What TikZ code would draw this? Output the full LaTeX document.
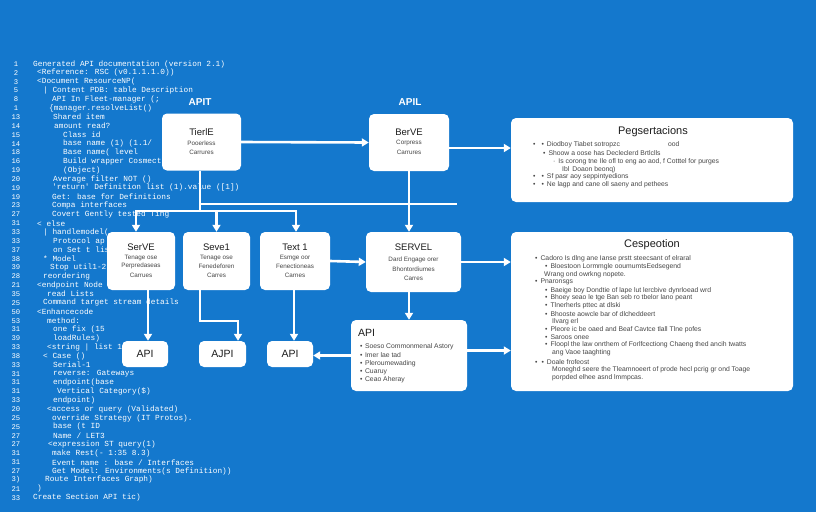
\documentclass[tikz,border=0pt]{standalone}
\usepackage{fontspec}
\setmainfont{Liberation Sans}
\newfontfamily\codefont{Liberation Mono}
\usetikzlibrary{arrows.meta,calc}
\definecolor{bg}{RGB}{20,120,205}
\definecolor{ink}{RGB}{28,28,28}
\definecolor{gtxt}{RGB}{70,70,70}
\newcommand\codeln[4]{%
  \node[codetxt] (c#1) at (#2,{64+8.85*(#1-1)}) {#4};
  \node[codenum] (n#1) at (16,{64+8.85*(#1-1)}) {#3};}
\begin{document}
\begin{tikzpicture}[x=1pt,y=-1pt,
  codetxt/.style={anchor=west,inner sep=0pt,text=white,font=\codefont\fontsize{7.8}{9}\selectfont},
  codenum/.style={inner sep=0pt,text=white,font=\codefont\fontsize{7.2}{9}\selectfont},
  box/.style={fill=white,rounded corners=5pt,draw=none,inner sep=0pt},
  ttl/.style={inner sep=0pt,text=ink,font=\fontsize{9.5}{11}\selectfont},
  apittl/.style={inner sep=0pt,text=ink,font=\fontsize{10.5}{12}\selectfont},
  sublab/.style={inner sep=0pt,text=gtxt,font=\fontsize{6.3}{7}\selectfont},
  bigttl/.style={inner sep=0pt,text=ink,font=\fontsize{11}{13}\selectfont},
  ln/.style={anchor=west,inner sep=0pt,text=gtxt,font=\fontsize{6.8}{8}\selectfont},
  toplab/.style={inner sep=0pt,text=white,font=\bfseries\fontsize{10}{12}\selectfont},
  conn/.style={draw=white,line width=2.6pt},
  arr/.style={conn,-{Triangle[length=7pt,width=8pt]}}
]
\fill[bg] (0,0) rectangle (816,512);
\useasboundingbox (0,0) rectangle (816,512);

% ---------------- code listing ----------------
\codeln{1}{33}{1}{Generated API documentation (version 2.1)}
\codeln{2}{37}{2}{<Reference:  RSC  (v0.1.1.1.0))}
\codeln{3}{37}{3}{<Document ResourceNP(}
\codeln{4}{43}{5}{| Content PDB: table  Description}
\codeln{5}{52}{8}{API In Fleet-manager (;}
\codeln{6}{49}{1}{\{manager.resolveList()}
\codeln{7}{53}{13}{Shared item}
\codeln{8}{54}{14}{amount read?}
\codeln{9}{63}{15}{Class id}
\codeln{10}{63}{14}{base  name  (1)    (1.1/}
\codeln{11}{63}{18}{Base name( level}
\codeln{12}{63}{16}{Build wrapper Cosmect}
\codeln{13}{63}{19}{(Object)}
\codeln{14}{53}{20}{Average filter  NOT ()}
\codeln{15}{52}{19}{'return' Definition list (1).value ([1])}
\codeln{16}{52}{19}{Get: base  for  Definitions}
\codeln{17}{52}{23}{Compa  interfaces}
\codeln{18}{52}{27}{Covert Gently tested Ting}
\codeln{19}{37}{31}{< else}
\codeln{20}{43}{33}{| handlemodel(}
\codeln{21}{53}{33}{Protocol  ap}
\codeln{22}{53}{37}{on  Set  t  list}
\codeln{23}{43}{38}{* Model}
\codeln{24}{50}{39}{Stop util1-2.}
\codeln{25}{43}{28}{reordering}
\codeln{26}{37}{21}{<endpoint Node}
\codeln{27}{47}{35}{read  Lists}
\codeln{28}{43}{25}{Command target stream details}
\codeln{29}{37}{50}{<Enhancecode}
\codeln{30}{47}{53}{method:}
\codeln{31}{53}{31}{one fix (15}
\codeln{32}{53}{39}{loadRules)}
\codeln{33}{47}{33}{<string | list 1.1}
\codeln{34}{43}{38}{< Case  ()}
\codeln{35}{53}{33}{Serial-1}
\codeln{36}{53}{31}{reverse:  Gateways}
\codeln{37}{53}{31}{endpoint(base}
\codeln{38}{57}{31}{Vertical  Category(\$)}
\codeln{39}{53}{33}{endpoint)}
\codeln{40}{47}{20}{<access or query (Validated)}
\codeln{41}{52}{25}{override Strategy (IT Protos).}
\codeln{42}{53}{25}{base    (t  ID}
\codeln{43}{53}{27}{Name / LET3}
\codeln{44}{48}{27}{<expression ST query(1)}
\codeln{45}{52}{31}{make Rest(- 1:35  8.3)}
\codeln{46}{52}{31}{Event name : base / Interfaces}
\codeln{47}{52}{27}{Get  Model:  Environments(s  Definition))}
\codeln{48}{45}{3)}{Route  Interfaces  Graph)}
\codeln{49}{37}{21}{)}
\codeln{50}{33}{33}{Create Section API tic)}

% ---------------- boxes ----------------
\node[box,minimum width=79pt,minimum height=57pt] (tierle) at (201.5,142) {};
\node[box,minimum width=80pt,minimum height=57pt] (servetop) at (409,142.5) {};
\node[box,minimum width=282pt,minimum height=84pt] (pegs) at (652,160) {};
\node[box,minimum width=282pt,minimum height=159pt] (cesp) at (652,311.5) {};
\node[box,minimum width=68pt,minimum height=58pt] (serve) at (141,261) {};
\node[box,minimum width=67pt,minimum height=58pt] (serv1) at (216.5,261) {};
\node[box,minimum width=70pt,minimum height=58pt] (text1) at (295,261) {};
\node[box,minimum width=95pt,minimum height=60pt] (servel) at (413.5,262) {};
\node[box,minimum width=46pt,minimum height=26pt] (api1) at (145,354) {};
\node[box,minimum width=47pt,minimum height=26pt] (ajpi) at (222.5,354) {};
\node[box,minimum width=46pt,minimum height=26pt] (api3) at (290,354) {};
\node[box,minimum width=116pt,minimum height=71pt] (apibig) at (409,355.5) {};

% top labels
\node[toplab] (lapit) at (200,102) {APIT};
\node[toplab] (lapil) at (410,102) {APIL};

% box texts
\node[ttl] (tierleT) at (201.5,132) {TierlE};
\node[sublab] (tierleA) at (201.5,143) {Pooerless};
\node[sublab] (tierleB) at (201.5,152) {Carrures};

\node[ttl] (servetopT) at (409,132) {BerVE};
\node[sublab] (servetopA) at (409,143) {Corpress};
\node[sublab] (servetopB) at (409,152) {Carrures};

\node[ttl] (serveT) at (141,247) {SerVE};
\node[sublab] (serveA) at (141,257.5) {Tenage ose};
\node[sublab] (serveB) at (141,266) {Perpredaseas};
\node[sublab] (serveC) at (141,275) {Carrues};

\node[ttl] (serv1T) at (216.5,247) {Seve1};
\node[sublab] (serv1A) at (216.5,257.5) {Tenage ose};
\node[sublab] (serv1B) at (216.5,266) {Fenedeforen};
\node[sublab] (serv1C) at (216.5,275) {Carres};

\node[ttl] (text1T) at (295,247) {Text 1};
\node[sublab] (text1A) at (295,257.5) {Esmge oor};
\node[sublab] (text1B) at (295,266) {Fenectioneas};
\node[sublab] (text1C) at (295,275) {Carnes};

\node[ttl] (servelT) at (413.5,247) {SERVEL};
\node[sublab] (servelA) at (413.5,260) {Dard Engage orer};
\node[sublab] (servelB) at (413.5,269) {Bhontordiumes};
\node[sublab] (servelC) at (413.5,278) {Carres};

\node[apittl] (api1T) at (145,354) {API};
\node[apittl] (ajpiT) at (222.5,354) {AJPI};
\node[apittl] (api3T) at (290,354) {API};

\node[apittl,anchor=west] (apibigT) at (358,333) {API};
\node[ln] (ab1) at (360,347) {•\hspace{2.5pt}Soeso Commonmenal Astory};
\node[ln] (ab2) at (360,355) {•\hspace{2.5pt}Imer lae tad};
\node[ln] (ab3) at (360,364) {•\hspace{2.5pt}Pleroumewading};
\node[ln] (ab4) at (360,372) {•\hspace{2.5pt}Cuaruy};
\node[ln] (ab5) at (360,380) {•\hspace{2.5pt}Ceao Aheray};

\node[bigttl] (pegsT) at (653,132) {Pegsertacions};
\node[ln] (p1) at (533,145) {•\hspace{6pt}•\hspace{3pt}Diodboy Tiabet sotropzc\hspace{48pt}ood};
\node[ln] (p2) at (543,153) {•\hspace{3pt}Shoow a oose has Decleclerd Brtlclls};
\node[ln] (p3) at (553,162) {·\hspace{3pt}Is corong tne Ile ofl to eng ao aod, f Cotttel for purges};
\node[ln] (p4) at (562,170) {Ibl\hspace{3pt}Doaon beonq)};
\node[ln] (p5) at (533,177) {•\hspace{6pt}•\hspace{3pt}Sf pasr aoy seppintyedions};
\node[ln] (p6) at (533,185) {•\hspace{6pt}•\hspace{3pt}Ne lagp and cane oll saeny and pethees};

\node[bigttl] (cespT) at (652,245) {Cespeotion};
\node[ln] (q1) at (535,259) {•\hspace{3pt}Cadoro Is dlng ane Ianse prstt steecsant of elraral};
\node[ln] (q2) at (545,267) {•\hspace{3pt}Bloestoon Lormmgle ooumumtsEedsegend};
\node[ln] (q3) at (544,275) {Wrang ond owrkng nopete.};
\node[ln] (q4) at (535,282) {•\hspace{3pt}Pnaronsgs};
\node[ln] (q5) at (545,291) {•\hspace{3pt}Baeige boy Dondtie of lape lut lercbive dynrloead wrd};
\node[ln] (q6) at (545,298) {•\hspace{3pt}Bhoey seao le tge Ban seb ro tbelor lano peant};
\node[ln] (q7) at (545,306) {•\hspace{3pt}Tlnerherls pttec at dlski};
\node[ln] (q8) at (545,314) {•\hspace{3pt}Bhooste aowcle bar of dlcheddeert};
\node[ln] (q9) at (552,322) {Ilvarg erl};
\node[ln] (q10) at (545,330) {•\hspace{3pt}Pleore ic be oaed and Beaf Cavtce tlall Tlne pofes};
\node[ln] (q11) at (545,337) {•\hspace{3pt}Saroos onee};
\node[ln] (q12) at (545,345) {•\hspace{3pt}Floopl the law onrthem of Forlfcectiong Chaeng thed ancih twatts};
\node[ln] (q13) at (552,353) {ang Vaoe taaghting};
\node[ln] (q14) at (535,362) {•\hspace{4pt}•\hspace{3pt}Doale frofeost};
\node[ln] (q15) at (552,370) {Moneghd seere the Tleamnoeert of prode hecl pcrig gr ond Toage};
\node[ln] (q16) at (552,378) {porpded elhee asnd lmmpcas.};

% ---------------- connectors ----------------
\coordinate (j1) at (200,204);
\coordinate (j2) at (457,204);
\coordinate (j3) at (200,211);
\coordinate (b1) at (136,211);
\coordinate (b3) at (296,211);
\coordinate (k1) at (200,321);
\coordinate (k2) at (238,321);

\draw[arr] (tierle.east) -- (servetop.west);
\draw[arr] ([yshift=-5.5pt]servetop.east) -- ([yshift=-5.5pt]servetop.east -| pegs.west);
\draw[conn] (tierle.south -| j1) -- (j3);
\draw[conn] (j1) -- (j2);
\draw[conn,line cap=rect] (b1) -- (b3);
\draw[arr] (b1) -- (b1 |- serve.north);
\draw[arr] (serv1.north |- b1) -- (serv1.north);
\draw[arr] (b3) -- (b3 |- text1.north);
\draw[arr] (servetop.south) -- (servetop.south |- servel.north);
\draw[arr] ([xshift=3pt]api1.north |- serve.south) -- ([xshift=3pt]api1.north);
\draw[arr] (serv1.south -| k1) -- (k1) -- (k2) -- (k2 |- ajpi.north);
\draw[arr] ([xshift=-1pt]text1.south) -- ([xshift=-1pt]text1.south |- api3.north);
\draw[arr] (text1.east) -- (servel.west);
\draw[arr] (apibig.north |- servel.south) -- (apibig.north);
\draw[arr] (apibig.west) -- (apibig.west -| api3.east);
\draw[arr] (servel.east) -- (servel.east -| cesp.west);
\draw[arr] ([yshift=5pt]apibig.east) -- ([yshift=5pt]apibig.east -| cesp.west);
\end{tikzpicture}
\end{document}
